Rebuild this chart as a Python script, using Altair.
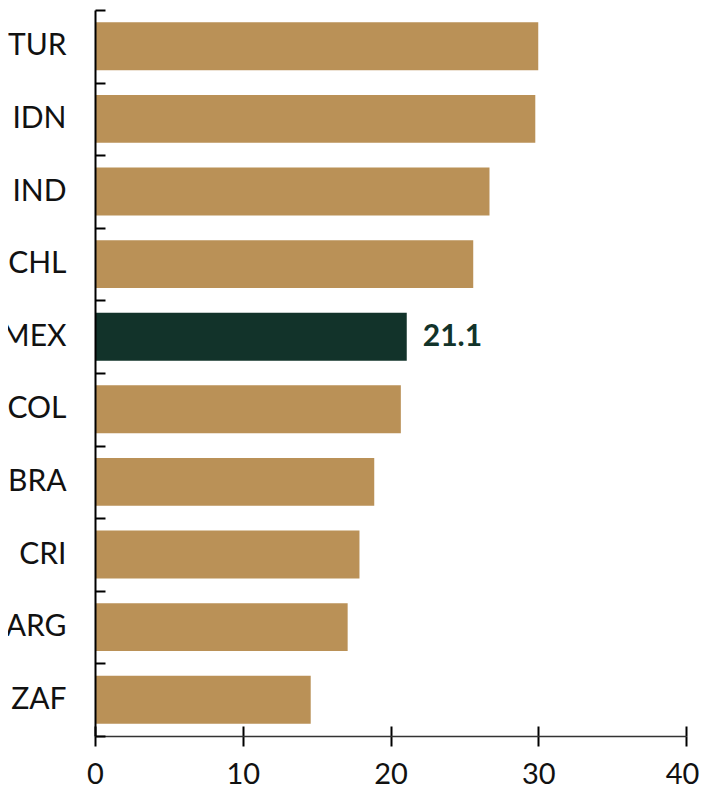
import altair as alt
import pandas as pd

countries = ["TUR", "IDN", "IND", "CHL", "MEX", "COL", "BRA", "CRI", "ARG", "ZAF"]
values = [30.0, 29.8, 26.7, 25.6, 21.1, 20.7, 18.9, 17.9, 17.1, 14.6]
highlight = "MEX"
x_ticks = [0, 10, 20, 30, 40]

df = pd.DataFrame({"country": countries, "value": values})

W, H = 591, 726
FONT = "Lato"
yscale = alt.Scale(domain=countries, paddingInner=0.34, paddingOuter=0.17)
yscale_ticks = alt.Scale(domain=countries, paddingInner=0, paddingOuter=0)
xscale = alt.Scale(domain=[0, 40], nice=False)

base = alt.Chart(df)

# invisible layer that carries the inward-pointing tick marks
ticks_layer = base.mark_bar(opacity=0).encode(
    y=alt.Y("country:N", sort=countries, scale=yscale_ticks,
            axis=alt.Axis(orient="right", offset=-W, labels=False, domain=False,
                          ticks=True, tickSize=10, tickWidth=2, tickColor="#000",
                          tickBand="extent", title=None, grid=False, zindex=1)),
    x=alt.X("value:Q", scale=xscale,
            axis=alt.Axis(orient="top", offset=-H, labels=False, domain=False,
                          ticks=True, tickSize=10, tickWidth=2, tickColor="#000",
                          values=x_ticks, title=None, grid=False, zindex=1)),
)

bars = base.mark_bar().encode(
    y=alt.Y("country:N", sort=countries, scale=yscale,
            axis=alt.Axis(orient="left", title=None, ticks=False, domainColor="#000",
                          domainWidth=2, labelFont=FONT, labelFontSize=30,
                          labelColor="#111", labelPadding=29, zindex=2, grid=False)),
    x=alt.X("value:Q", scale=xscale,
            axis=alt.Axis(orient="bottom", title=None, values=x_ticks, tickSize=10,
                          tickWidth=2, tickColor="#000", domainColor="#333",
                          domainWidth=1.5, grid=False, labelFont=FONT, labelFontSize=29,
                          labelColor="#111", labelPadding=14, labelFlush=False,
                          labelOffset={"condition": {"test": "datum.value == 40", "value": -4},
                                       "value": 0},
                          zindex=1)),
    color=alt.condition(alt.datum.country == highlight,
                        alt.value("#12332A"), alt.value("#BA9157")),
)

label = base.transform_filter(alt.datum.country == highlight).mark_text(
    align="left", baseline="middle", dx=16, font=FONT, fontSize=30,
    fontWeight="bold", color="#12332A"
).encode(
    y=alt.Y("country:N", sort=countries, scale=yscale, axis=None),
    x=alt.X("value:Q", scale=xscale, axis=None),
    text=alt.Text("value:Q", format=".1f"),
)

chart = alt.layer(ticks_layer, bars, label).resolve_scale(
    y="independent"
).resolve_axis(
    x="independent", y="independent"
).properties(
    width=W, height=H,
    padding={"left": 87, "top": 2, "right": 13, "bottom": 48},
    autosize=alt.AutoSizeParams(type="none"),
).configure_view(stroke=None)

chart.save("out.html", embed_options={"renderer": "svg", "actions": False})
